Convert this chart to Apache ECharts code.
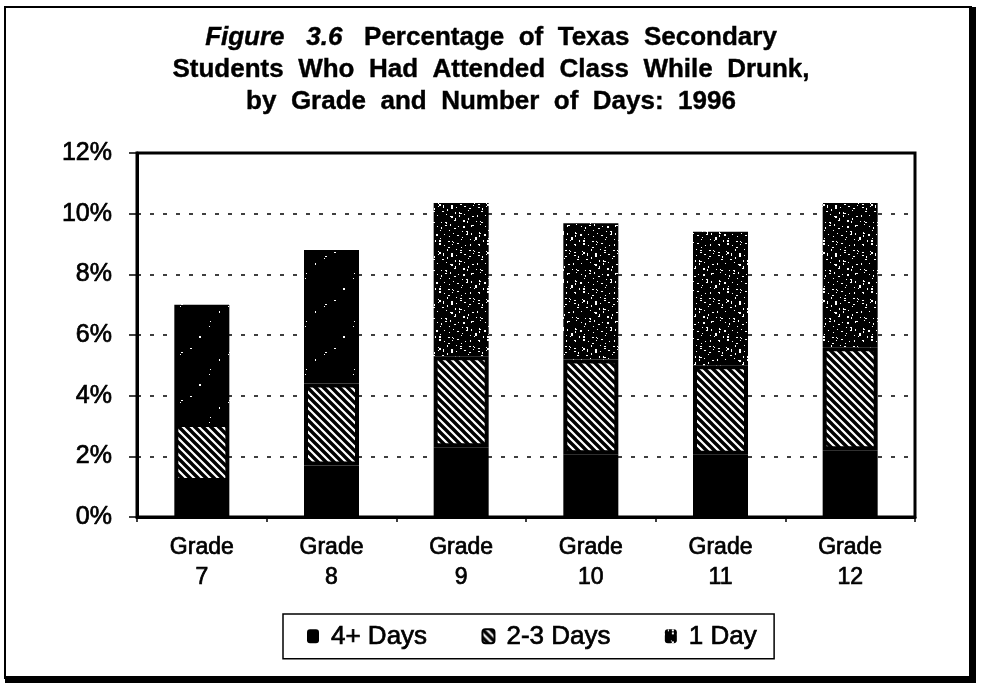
<!DOCTYPE html>
<html>
<head>
<meta charset="utf-8">
<script src="https://cdn.jsdelivr.net/npm/echarts@6/dist/echarts.min.js"></script>
<style>
html,body{margin:0;padding:0;background:#fff;}
#chart{width:982px;height:685px;}
</style>
</head>
<body>
<div id="chart"></div>
<script>
// ---- data ----
var categories = ['Grade\n7', 'Grade\n8', 'Grade\n9', 'Grade\n10', 'Grade\n11', 'Grade\n12'];
var days4plus = [1.15, 1.7, 2.3, 2.07, 2.05, 2.2];
var days2to3  = [1.95, 2.7, 3.0, 3.12, 2.95, 3.4];
var day1      = [3.9, 4.4, 5.05, 4.49, 4.4, 4.75];
var seriesNames = ['4+ Days', '2-3 Days', '1 Day'];
var yTicks = [0, 2, 4, 6, 8, 10, 12];

var FONT = 'Liberation Sans, Arial, Helvetica, sans-serif';

// hatch pattern (white with black backslash stripes)
function makeHatch() {
  var s = 8, c = document.createElement('canvas');
  c.width = s; c.height = s;
  var g = c.getContext('2d');
  g.fillStyle = '#fff'; g.fillRect(0, 0, s, s);
  g.strokeStyle = '#000'; g.lineWidth = 3.4;
  g.beginPath();
  g.moveTo(-s, -s); g.lineTo(2 * s, 2 * s);
  g.moveTo(-s, 0); g.lineTo(s, 2 * s);
  g.moveTo(0, -s); g.lineTo(2 * s, s);
  g.stroke();
  return c;
}
// stipple pattern (black with white specks), deterministic
function makeStipple(count) {
  var s = 48, c = document.createElement('canvas');
  c.width = s; c.height = s;
  var g = c.getContext('2d');
  g.fillStyle = '#000'; g.fillRect(0, 0, s, s);
  g.fillStyle = '#fff';
  for (var i = 0; i < count; i++) {
    var x = (i * 29 + 7) % s;
    var y = (i * 17 + (i * i) % 13) % s;
    g.fillRect(x, y, (i % 3 === 0) ? 2 : 1, (i % 4 === 0) ? 2 : 1);
  }
  return c;
}
var hatch = { image: makeHatch(), repeat: 'repeat' };
var stippleDense = { image: makeStipple(110), repeat: 'repeat' };
var stippleSparse = { image: makeStipple(8), repeat: 'repeat' };

var chart = echarts.init(document.getElementById('chart'));

var day1Items = day1.map(function (v, i) {
  return { value: v, itemStyle: { color: i < 2 ? stippleSparse : stippleDense } };
});

var heavy = { textBorderColor: '#000', textBorderWidth: 0.7 };
var titleStyle = { fontFamily: FONT, fontWeight: 'bold', fontSize: 26, color: '#000', lineHeight: 32, textBorderColor: '#000', textBorderWidth: 0.4 };

chart.setOption({
  animation: false,
  backgroundColor: '#fff',
  title: {
    text: '{it|Figure   3.6}{r|   Percentage  of  Texas  Secondary}\nStudents  Who  Had  Attended  Class  While  Drunk,\nby  Grade  and  Number  of  Days:  1996',
    left: 'center',
    top: 17,
    textStyle: Object.assign({
      rich: {
        it: Object.assign({}, titleStyle, { fontStyle: 'italic' }),
        r: Object.assign({}, titleStyle)
      }
    }, titleStyle)
  },
  legend: {
    data: seriesNames,
    left: 283,
    top: 614,
    orient: 'horizontal',
    itemWidth: 12,
    itemHeight: 14,
    itemGap: 54,
    padding: [9, 17, 9, 24],
    borderColor: '#000',
    borderWidth: 1.5,
    textStyle: Object.assign({ fontFamily: FONT, fontSize: 26, color: '#000', padding: [0, 0, 0, 7] }, heavy),
    selectedMode: false
  },
  grid: {
    left: 137, right: 67, top: 153, bottom: 168,
    show: true, borderColor: '#000', borderWidth: 3, backgroundColor: '#fff'
  },
  xAxis: {
    type: 'category',
    data: categories,
    axisLine: { lineStyle: { color: '#000', width: 3 } },
    axisTick: { show: true, length: 5, lineStyle: { color: '#000', width: 1.5 } },
    axisLabel: Object.assign({ fontFamily: FONT, fontSize: 23, color: '#000', lineHeight: 30, margin: 16 }, heavy),
    splitLine: { show: false }
  },
  yAxis: {
    type: 'value',
    min: 0, max: 12, interval: 2,
    axisLine: { show: true, lineStyle: { color: '#000', width: 3 } },
    axisTick: { show: true, length: 8, lineStyle: { color: '#000', width: 1.5 } },
    axisLabel: Object.assign({
      fontFamily: FONT, fontSize: 25, color: '#000', margin: 25,
      formatter: function (v) { return yTicks.indexOf(v) >= 0 ? v + '%' : ''; }
    }, heavy),
    splitLine: { show: true, lineStyle: { color: '#000', width: 1.5, type: [4, 9] } }
  },
  series: [
    {
      name: seriesNames[0], type: 'bar', stack: 'all', barWidth: 55,
      data: days4plus,
      itemStyle: { color: '#000' }
    },
    {
      name: seriesNames[1], type: 'bar', stack: 'all', barWidth: 55,
      data: days2to3,
      itemStyle: { color: hatch, borderColor: '#000', borderWidth: 4 }
    },
    {
      name: seriesNames[2], type: 'bar', stack: 'all', barWidth: 55,
      data: day1Items,
      itemStyle: { color: stippleDense }
    }
  ],
  graphic: [
    { type: 'rect', shape: { x: 5, y: 7, width: 966, height: 671 }, style: { fill: 'none', stroke: '#000', lineWidth: 2 }, silent: true },
    { type: 'rect', shape: { x: 969, y: 7, width: 7, height: 676 }, style: { fill: '#000' }, silent: true },
    { type: 'rect', shape: { x: 5, y: 676, width: 971, height: 7 }, style: { fill: '#000' }, silent: true }
  ]
});
</script>
</body>
</html>
